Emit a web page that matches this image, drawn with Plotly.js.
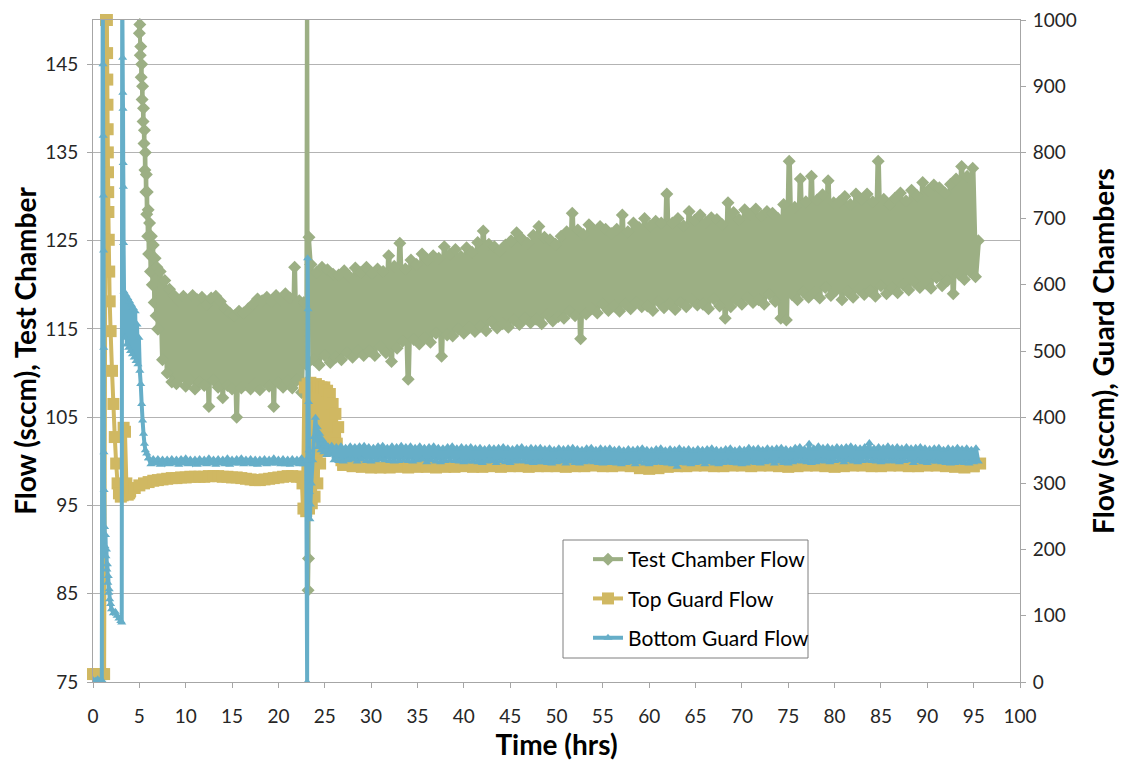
<!DOCTYPE html>
<html>
<head>
<meta charset="utf-8">
<script src="https://cdn.plot.ly/plotly-3.0.1.min.js"></script>
<style>
html,body{margin:0;padding:0;background:#fff;}
#chart{width:1122px;height:767px;}
</style>
</head>
<body>
<div id="chart"></div>
<script>
// ---------------- DATA ----------------
// Test Chamber Flow (sccm, left axis)
const tcEarlyTime = [4.95,5.0,5.05,5.1,5.15,5.2,5.25,5.3,5.35,5.4,5.45,5.5,5.55,5.6,5.65,5.7,5.75,5.8,5.85,5.9,5.95,6.0,6.1,6.2,6.3,6.4,6.5,6.6,6.7,6.8,6.9,7.0];
const tcEarlyFlow = [150.5,148.5,149.5,146,147,143.5,145,141,142.5,138.5,140,136,137.5,133,135,130.5,132.5,128,130.5,125.5,128.5,123.5,127,121.5,125.5,120,124.5,118,123,116.5,122,115];
const tcBandAStart = 7.0, tcBandAStep = 0.25;
const tcBandA = [115,121.5,111.5,120.5,110,119.5,109,118.8,
  108.8,118.2,109.5,118.7,108.5,118,109.2,118.8,
  108.2,118.3,109,118.6,108.6,117.8,106.2,118.5,
  109.2,118.7,108.4,118.1,107.2,117.3,108.6,116.8,
  108.2,116.5,105,117,108.3,116.8,108.7,117.3,
  108.2,117.8,108.8,118.4,108.1,118.2,109,118.6,
  108.5,118.1,106.2,118.8,108.9,118.3,108.4,119,
  109.1,118.5,108.3,122,109.2,118.2,107.8,118,
  111];
const tcSpikeTime = [23.0,23.1,23.2,23.25,23.3,23.5];
const tcSpikeFlow = [111,165,85.4,89,125.4,122.3];
const tcBandBStart = 23.5, tcBandBStep = 0.3;
const tcBandB = [
  122.3,111.5,121.4,110.9,122,112,121.7,111.2,121.2,111.8,
  121.1,111.5,121.6,112.3,120.9,111.8,121.9,112.5,121.4,112,
  122,112.5,121.3,112,121.8,113,121.5,112.3,123.3,111.3,
  122.1,112.8,124.7,113.6,121.8,109.3,122.8,113.8,122.3,113.3,
  123.5,114,122.8,113.5,123.3,114.5,123,111.9,124.3,114.3,
  123.5,114.2,124,115,123.2,114.5,124.2,115.2,123.7,114.7,
  124.8,115.3,126.1,114.8,124.6,115.8,124.3,115.1,123.8,115.6,
  124.5,115.2,125,116,125.9,115.5,125.2,116.2,124.7,115.7,
  125.6,116.1,126.6,115.6,125.4,116.6,125.1,115.9,124.6,116.4,
  125.5,116.2,126,117,128.1,116.5,126.2,113.9,125.7,116.7,
  126.8,117.3,126.1,116.8,126.6,117.8,126.3,117.1,125.8,117.6,
  126.3,117,127.9,117.8,126,117.3,127,118,126.5,117.5,
  127.5,117.6,126.7,117.1,127.2,118.1,127,117.4,130.3,117.9,
  127,117.2,127.5,118,126.7,117.5,128.3,118.3,127.3,117.7,
  127.9,117.8,127.1,117.3,127.6,118.4,127.4,117.6,126.8,116.2,
  129.3,117.5,128.2,118.3,127.4,117.8,128.5,118.6,128,118,
  128.6,118.3,127.8,117.8,128.3,118.9,128.1,118.1,127.5,116.2,
  129.1,116,134,118.9,128.8,118.3,132,119.2,129.4,118.6,
  132.3,119.1,129.6,118.5,130.2,119.7,131.8,118.8,129.3,119.4,
  129.4,118.3,130,119.2,129.1,118.6,130.3,119.5,129.7,118.9,
  130.3,119.3,129.4,118.7,134,119.9,129.7,119,129.1,119.6,
  129.8,119.1,130.4,120,129.5,119.4,130.7,120.3,130.1,119.7,
  131.6,120.2,130.7,119.6,131.3,120.8,131,119.9,130.4,120.5,
  131.4,119,132,121.2,133.4,120.6,132.3,121.5,133.2,120.9,
  125];

// Top Guard Flow (sccm, right axis)
const tgEarlyTime = [0,0.3,0.6,0.9,1.2,1.4,1.5,1.52,1.54,1.56,1.58,1.6,1.62,1.64,1.66,1.7,1.75,1.8,1.9,2.05,2.2,2.35,2.5,2.65,2.8,3.0,3.2,3.3,3.45,3.6,3.75,3.9,4.0];
const tgEarlyFlow = [12,12,12,12,12,1000,1000,950,910,872,835,800,770,740,710,668,620,575,530,470,420,370,330,300,285,280,282,384,378,300,283,285,288];
const tgBandAStart = 4.0, tgBandAStep = 0.5;
const tgBandA = [288,293,297,300,302,304,305,306,307,308,308,309,309,310,310,310,310,311,311,311,
  310,310,309,309,308,307,306,305,305,306,307,308,309,310,311,311,310,310];
const tgSpikeTime = [22.5,22.6,22.7,22.85,23.0,23.15,23.3,23.45,23.6,23.75,23.9,24.05,24.2,24.35,24.5,24.65,24.8,24.95,25.1,25.25,25.4,25.55,25.7,25.85,26.0,26.15,26.3,26.45,26.6,26.8,27.0];
const tgSpikeFlow = [310,300,262,445,258,450,262,452,270,448,280,450,300,447,330,445,350,445,365,440,368,435,370,420,368,405,360,385,345,335,328];
const tgBandBStart = 27, tgBandBStep = 1;
const tgBandB = [328,326,325,324,324,324,325,324,325,325,324,325,325,326,325,325,326,325,326,326,
  325,326,326,326,325,326,326,327,326,326,327,326,323,322,323,325,326,326,327,327,
  326,326,327,327,326,327,327,326,325,326,327,327,326,325,326,327,327,326,326,327,
  327,326,326,327,327,326,325,324,326];
const tgEndTime = [95,95.7];
const tgEndFlow = [326,330];

// Bottom Guard Flow (sccm, right axis)
const bgEarlyTime = [0,0.25,0.5,0.75,0.95,1.05,1.08,1.1,1.12,1.14,1.16,1.18,1.2,1.25,1.3,1.35,1.4,1.45,1.5,1.55,1.6,1.65,1.7,1.75,1.8,1.9,2.0,2.2,2.4,2.6,2.8,3.0,3.1,
  3.15,3.2,3.22,3.24,3.26,3.28,3.3,3.35,3.45,3.55,3.65,3.75,3.85,3.95,4.05,4.15,4.25,4.35,4.45,4.55,4.65,4.75,4.85,4.95,5.05,5.15,5.25,5.35,5.45,5.55,5.65,5.8,6.0];
const bgEarlyFlow = [3,2,4,2,3,1060,933,825,735,652,505,347,290,234,205,222,190,200,170,178,150,160,135,140,125,118,110,104,106,100,96,92,90,
  1060,943,890,866,784,748,663,590,520,585,510,580,505,575,500,570,495,565,490,560,485,540,480,520,470,450,420,395,375,360,350,345,338];
const bgBandAStart = 6.0, bgBandAStep = 0.25;
const bgBandA = [
  338,329,337,330,337,328,336,330,336,329,
  337,330,336,328,337,330,338,329,336,330,
  336,328,337,330,336,329,338,330,336,328,
  337,330,336,329,338,328,336,330,337,330,
  338,329,336,330,337,329,336,328,336,330,
  337,329,336,330,338,330,336,329,337,329,
  336,328,337,330,336,329,338,329,335];
const bgSpikeTime = [23.0,23.1,23.15,23.2,23.25,23.3,23.35,23.4,23.45,23.55,23.7,23.85,24.0,24.1,24.2,24.3,24.45,24.6,24.75,24.9,25.05,25.2,25.35,25.5];
const bgSpikeFlow = [335,0,640,563,423,350,287,246,268,300,335,370,399,365,385,355,375,350,366,347,360,343,356,344];
const bgBandBStart = 25.5, bgBandBStep = 0.25;
const bgBandB = [344,
  357,335,355,334,356,333,354,335,356,336,
  355,333,356,336,357,334,355,333,354,335,
  356,336,357,335,354,334,356,333,355,334,
  357,335,355,334,356,333,354,335,356,336,
  354,332,355,335,356,333,354,332,353,334,
  355,335,356,334,353,333,355,332,354,333,
  355,333,353,332,354,331,352,333,354,334,
  353,331,354,334,355,332,353,331,352,333,
  354,334,355,333,352,332,354,331,353,332,
  354,332,352,331,353,330,351,332,353,333,
  352,330,353,333,354,331,352,330,351,332,
  353,333,354,332,351,331,353,330,352,331,
  353,331,351,330,352,329,350,331,352,332,
  351,329,352,332,353,330,351,329,350,331,
  352,332,353,331,350,330,352,329,351,325,
  353,331,351,330,352,329,350,331,352,332,
  351,329,352,332,353,330,351,329,350,331,
  352,332,353,331,350,330,352,329,351,330,
  354,332,352,331,353,330,351,332,353,333,
  352,330,353,333,354,331,352,330,351,332,
  354,334,355,333,352,332,360,331,353,332,
  356,334,354,333,355,332,353,334,355,335,
  354,332,355,335,356,333,354,332,353,334,
  355,335,361,334,353,333,355,332,354,333,
  356,334,354,333,355,332,353,334,355,335,
  353,331,354,334,355,332,353,331,352,333,
  353,333,354,332,351,331,353,330,352,331,
  354,332,352,331,353,330,351,332,353,333];

const seriesNames = ['Test Chamber Flow','Top Guard Flow','Bottom Guard Flow'];
const xTicks = [0,5,10,15,20,25,30,35,40,45,50,55,60,65,70,75,80,85,90,95,100];

// ---------------- STYLE ----------------
const cGreen = '#9caf84', cGold = '#d0b862', cBlue = '#66aec8';
const FONT = 'Lato, "Open Sans", "Liberation Sans", sans-serif';

function tr(name, color, symbol, msize, lw, yaxis, opts, show) {
  return Object.assign({
    type: 'scatter', mode: 'lines+markers', name: name, legendgroup: name,
    showlegend: !!show, yaxis: yaxis, hoverinfo: 'skip',
    line: {color: color, width: lw, simplify: false},
    marker: {color: color, symbol: symbol, size: msize, line: {width: 0}}
  }, opts);
}

const gT = seriesNames[0], oT = seriesNames[1], bT = seriesNames[2];
const traces = [
  tr(gT, cGreen, 'diamond', 10, 4, 'y', {x: tcEarlyTime, y: tcEarlyFlow, cliponaxis: false}, true),
  tr(gT, cGreen, 'diamond', 10, 5, 'y', {x0: tcBandAStart, dx: tcBandAStep, y: tcBandA}),
  tr(gT, cGreen, 'diamond', 10, 4, 'y', {x: tcSpikeTime, y: tcSpikeFlow}),
  tr(gT, cGreen, 'diamond', 10, 5.5, 'y', {x0: tcBandBStart, dx: tcBandBStep, y: tcBandB}),

  tr(oT, cGold, 'square', 12, 4, 'y2', {x: tgEarlyTime, y: tgEarlyFlow, cliponaxis: false}, true),
  tr(oT, cGold, 'square', 12, 4, 'y2', {x0: tgBandAStart, dx: tgBandAStep, y: tgBandA}),
  tr(oT, cGold, 'square', 12, 5, 'y2', {x: tgSpikeTime, y: tgSpikeFlow}),
  tr(oT, cGold, 'square', 12, 4, 'y2', {x0: tgBandBStart, dx: tgBandBStep, y: tgBandB}),
  tr(oT, cGold, 'square', 12, 4, 'y2', {x: tgEndTime, y: tgEndFlow}),

  tr(bT, cBlue, 'triangle-up', 8, 4, 'y2', {x: bgEarlyTime, y: bgEarlyFlow}, true),
  tr(bT, cBlue, 'triangle-up', 8, 4, 'y2', {x0: bgBandAStart, dx: bgBandAStep, y: bgBandA}),
  tr(bT, cBlue, 'triangle-up', 8, 4, 'y2', {x: bgSpikeTime, y: bgSpikeFlow}),
  tr(bT, cBlue, 'triangle-up', 8, 4, 'y2', {x0: bgBandBStart, dx: bgBandBStep, y: bgBandB})
];

const axisFont = {family: FONT, size: 19, color: '#262626'};
const titleFont = {family: FONT, size: 28, color: '#000'};

const layout = {
  width: 1122, height: 767,
  margin: {l: 93, r: 102, t: 20, b: 85, pad: 0},
  paper_bgcolor: '#fff', plot_bgcolor: '#fff',
  showlegend: true,
  font: {family: FONT},
  xaxis: {
    range: [0, 100], tickmode: 'array', tickvals: xTicks,
    ticks: 'outside', ticklen: 5, tickcolor: '#a6a6a6',
    ticklabelstandoff: 12,
    showgrid: false, zeroline: false,
    showline: true, linecolor: '#a6a6a6', linewidth: 1, mirror: true,
    tickfont: axisFont,
    title: {text: '<b>Time (hrs)</b>', font: titleFont, standoff: 4}
  },
  yaxis: {
    range: [75, 150], tick0: 75, dtick: 10,
    ticks: 'outside', ticklen: 5, tickcolor: '#a6a6a6',
    ticklabelstandoff: 5,
    showgrid: true, gridcolor: '#b3b3b3', gridwidth: 1,
    zeroline: false, showline: true, linecolor: '#a6a6a6', linewidth: 1,
    tickfont: axisFont,
    title: {text: '<b>Flow (sccm), Test Chamber</b>', font: titleFont, standoff: 0}
  },
  yaxis2: {
    range: [0, 1000], dtick: 100, tick0: 0,
    overlaying: 'y', side: 'right',
    ticks: 'outside', ticklen: 5, tickcolor: '#a6a6a6',
    ticklabelstandoff: 3,
    showgrid: false, zeroline: false, showline: true, linecolor: '#a6a6a6', linewidth: 1,
    tickfont: axisFont,
    title: {text: '<b>Flow (sccm), Guard Chambers</b>', font: titleFont, standoff: 18}
  },
  shapes: [{
    type: 'rect', xref: 'paper', yref: 'paper', layer: 'above',
    x0: (563 - 93) / 927, x1: (808 - 93) / 927,
    y0: (682 - 658) / 662, y1: (682 - 540) / 662,
    line: {color: '#7f7f7f', width: 1}, fillcolor: 'rgba(255,255,255,1)'
  }],
  legend: {
    x: (588 - 93) / 927, y: (682 - 539) / 662, xanchor: 'left', yanchor: 'top',
    bgcolor: 'rgba(0,0,0,0)', borderwidth: 0,
    font: {family: FONT, size: 21, color: '#000'},
    traceorder: 'grouped', tracegroupgap: 9, itemwidth: 30
  }
};

Plotly.newPlot('chart', traces, layout, {staticPlot: true, displayModeBar: false});
</script>
</body>
</html>
